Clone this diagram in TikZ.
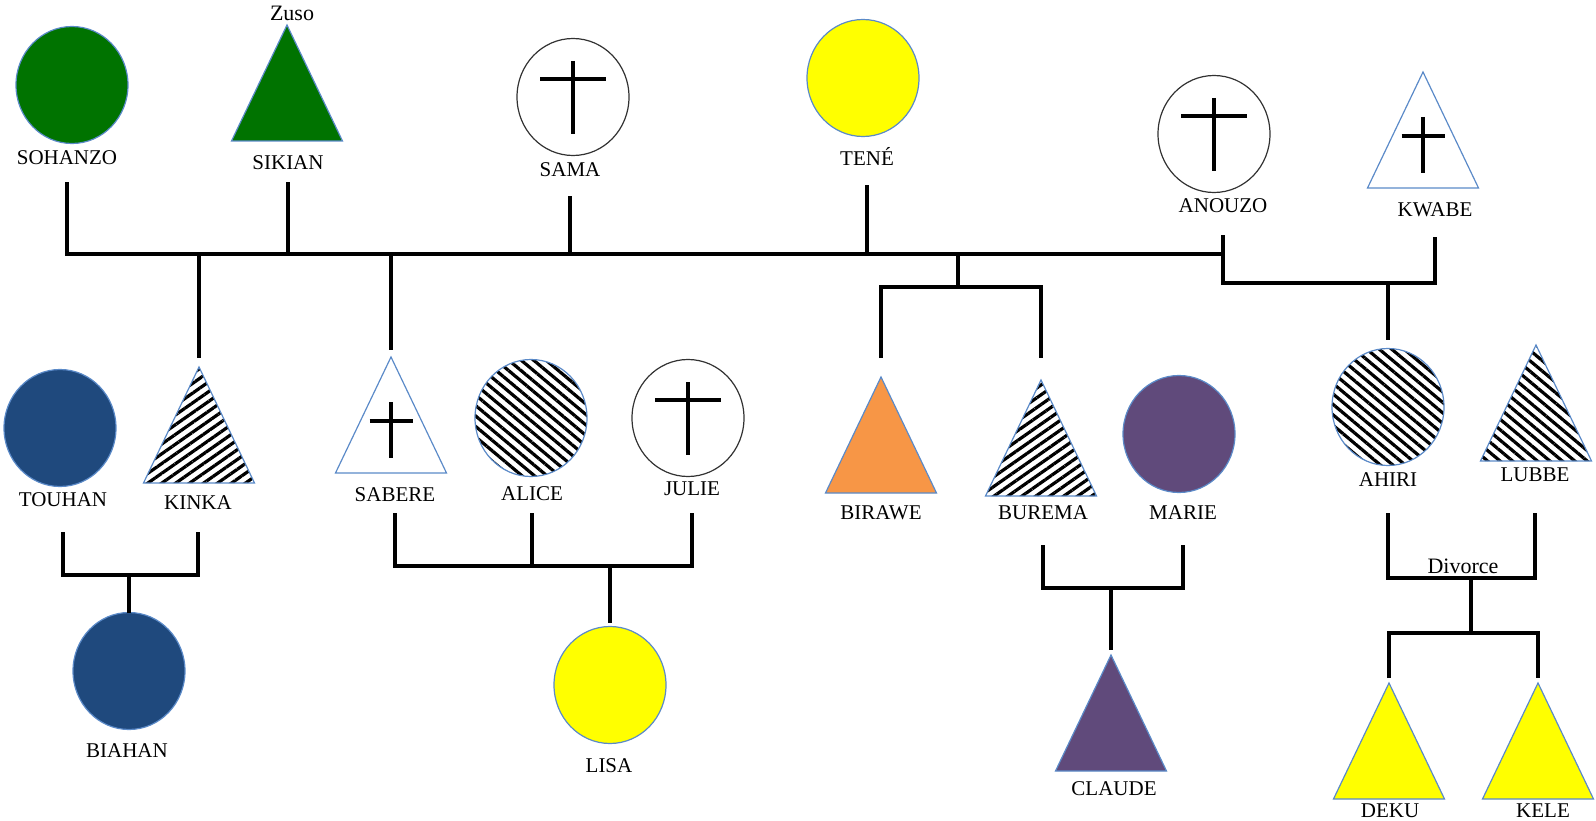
\documentclass[tikz,border=0pt]{standalone}
\usepackage{fontspec}
\setmainfont{Liberation Serif}
\usepackage{tikz}
\usetikzlibrary{shapes.geometric,patterns.meta}

\definecolor{famgreen}{RGB}{0,115,0}
\definecolor{famnavy}{RGB}{31,73,125}
\definecolor{famyellow}{RGB}{255,255,0}
\definecolor{famorange}{RGB}{247,150,70}
\definecolor{fampurple}{RGB}{96,74,123}
\definecolor{edgeblue}{RGB}{91,138,200}
\definecolor{deadgray}{RGB}{50,50,50}

\begin{document}
\begin{tikzpicture}[x=1pt,y=-1pt,
    person/.style={draw=edgeblue,line width=1.2pt,inner sep=0pt,outer sep=0pt},
    female/.style={person,ellipse,minimum width=112pt,minimum height=117pt},
    male/.style={person,isosceles triangle,isosceles triangle stretches,
        shape border rotate=90,minimum width=111pt,minimum height=116pt,anchor=apex},
    dead/.style={draw=deadgray},
    hatchup/.style={pattern={Lines[angle=35,distance=8pt,line width=3.2pt]}},
    hatchdown/.style={pattern={Lines[angle=-40,distance=8pt,line width=3.2pt]}},
    personname/.style={font=\fontsize{21}{24}\selectfont,inner sep=0pt,text height=14pt,text depth=0pt},
    note/.style={font=\fontsize{22}{24}\selectfont,inner sep=0pt},
    link/.style={line width=3.8pt},
    cross/.style={line width=3.8pt}]
    \useasboundingbox (0,0) rectangle (1596,821);

    % Crosses for the deceased
    \def\ccross#1{%
        \draw[cross] ([yshift=36pt]#1.center) -- ([yshift=-37pt]#1.center);
        \draw[cross] ([shift={(-33pt,18pt)}]#1.center) -- ([shift={(33pt,18pt)}]#1.center);}
    \def\tcross#1{%
        \draw[cross] ([yshift=-45pt]#1.apex) -- ([yshift=-101pt]#1.apex);
        \draw[cross] ([shift={(-21.5pt,-64pt)}]#1.apex) -- ([shift={(21.5pt,-64pt)}]#1.apex);}

    % First generation
    \node[female,fill=famgreen] (sohanzo) at (72,85) {};
    \node[male,fill=famgreen] (sikian) at (287,25) {};
    \node[female,dead] (sama) at (573,97) {};
    \node[female,fill=famyellow] (tene) at (863,78) {};
    \node[female,dead] (anouzo) at (1214,134) {};
    \node[male] (kwabe) at (1423,72) {};
    \ccross{sama}
    \ccross{anouzo}
    \tcross{kwabe}

    \node[personname] (sohanzoName) at (67,158) {SOHANZO};
    \node[note] (zuso) at (292,13) {Zuso};
    \node[personname] (sikianName) at (288,163) {SIKIAN};
    \node[personname] (samaName) at (570,170) {SAMA};
    \node[personname] (teneName) at (867,159) {TENÉ};
    \node[personname] (anouzoName) at (1223,206) {ANOUZO};
    \node[personname] (kwabeName) at (1435,210) {KWABE};

    % Second generation
    \node[female,fill=famnavy] (touhan) at (60,428) {};
    \node[male,hatchup] (kinka) at (199,367) {};
    \node[male] (sabere) at (391,357) {};
    \node[female,hatchdown] (alice) at (531,418) {};
    \node[female,dead] (julie) at (688,418) {};
    \node[male,fill=famorange] (birawe) at (881,377) {};
    \node[male,hatchup] (burema) at (1041,380) {};
    \node[female,fill=fampurple] (marie) at (1179,434) {};
    \node[female,hatchdown] (ahiri) at (1388,407) {};
    \node[male,hatchdown] (lubbe) at (1536,345) {};
    \tcross{sabere}
    \ccross{julie}

    \node[personname] (touhanName) at (63,499) {TOUHAN};
    \node[personname] (kinkaName) at (198,502) {KINKA};
    \node[personname] (sabereName) at (395,494) {SABERE};
    \node[personname] (aliceName) at (532,493) {ALICE};
    \node[personname] (julieName) at (692,488) {JULIE};
    \node[personname] (biraweName) at (881,512) {BIRAWE};
    \node[personname] (buremaName) at (1043,512) {BUREMA};
    \node[personname] (marieName) at (1183,512) {MARIE};
    \node[personname] (ahiriName) at (1388,479) {AHIRI};
    \node[personname] (lubbeName) at (1535,474) {LUBBE};

    % Third generation
    \node[female,fill=famnavy] (biahan) at (129,671) {};
    \node[female,fill=famyellow] (lisa) at (610,685) {};
    \node[male,fill=fampurple] (claude) at (1111,655) {};
    \node[male,fill=famyellow] (deku) at (1389,683) {};
    \node[male,fill=famyellow] (kele) at (1538,683) {};

    \node[personname] (biahanName) at (127,750) {BIAHAN};
    \node[personname] (lisaName) at (609,765) {LISA};
    \node[personname] (claudeName) at (1114,788) {CLAUDE};
    \node[personname] (dekuName) at (1390,810) {DEKU};
    \node[personname] (keleName) at (1543,810) {KELE};
    \node[note] (divorce) at (1463,566) {Divorce};

    % Junction levels
    \coordinate (topBar) at (0,254);
    \coordinate (anouzoBar) at (0,283);
    \coordinate (birBar) at (958,287);
    \coordinate (touhanBar) at (0,575);
    \coordinate (sabereBar) at (0,566);
    \coordinate (buremaBar) at (0,588);
    \coordinate (ahiriBar) at (0,578);
    \coordinate (dekuBar) at (1471,633);

    % Draw first generation links
    \draw[link] ([yshift=-17pt]sohanzoName.south) |- (anouzoName.south |- topBar);
    \draw[link] ([yshift=-12pt]sikianName.south) -- (sikianName.south |- topBar);
    \draw[link] ([yshift=-19pt]samaName.south) -- (samaName.south |- topBar);
    \draw[link] ([yshift=-19pt]teneName.south) -- (teneName.south |- topBar);
    \draw[link] ([yshift=-22pt]anouzoName.south) |- (kwabeName.south |- anouzoBar)
        -- ([yshift=-20pt]kwabeName.south);

    % Draw children of the first generation
    \draw[link,shorten >=9pt] (kinka.apex |- topBar) -- (kinka.apex);
    \draw[link,shorten >=7pt] (sabere.apex |- topBar) -- (sabere.apex);
    \draw[link] (birBar |- topBar) -- (birBar);
    \draw[link,shorten <=19pt,shorten >=22pt] (birawe.apex) |- (birBar) -| (burema.apex);
    \draw[link,shorten >=9pt] (ahiri.north |- anouzoBar) -- (ahiri.north);

    % Draw second generation couples
    \draw[link] ([yshift=-26pt]touhanName.south) |- (kinkaName.south |- touhanBar)
        -- ([yshift=-23pt]kinkaName.south);
    \draw[link] (biahan.north |- touhanBar) -- (biahan.north);
    \draw[link] ([yshift=-12pt]sabereName.south) |- (julieName.south |- sabereBar)
        -- ([yshift=-18pt]julieName.south);
    \draw[link] ([yshift=-13pt]aliceName.south) -- (aliceName.south |- sabereBar);
    \draw[link,shorten >=4pt] (lisa.north |- sabereBar) -- (lisa.north);
    \draw[link] ([yshift=-26pt]buremaName.south) |- (marieName.south |- buremaBar)
        -- ([yshift=-26pt]marieName.south);
    \draw[link,shorten >=5pt] (claude.apex |- buremaBar) -- (claude.apex);
    \draw[link] ([yshift=-27pt]ahiriName.south) |- (lubbeName.south |- ahiriBar)
        -- ([yshift=-32pt]lubbeName.south);
    \draw[link] (dekuBar |- ahiriBar) -- (dekuBar);
    \draw[link,shorten <=5pt,shorten >=5pt] (deku.apex) |- (dekuBar) -| (kele.apex);
\end{tikzpicture}
\end{document}
